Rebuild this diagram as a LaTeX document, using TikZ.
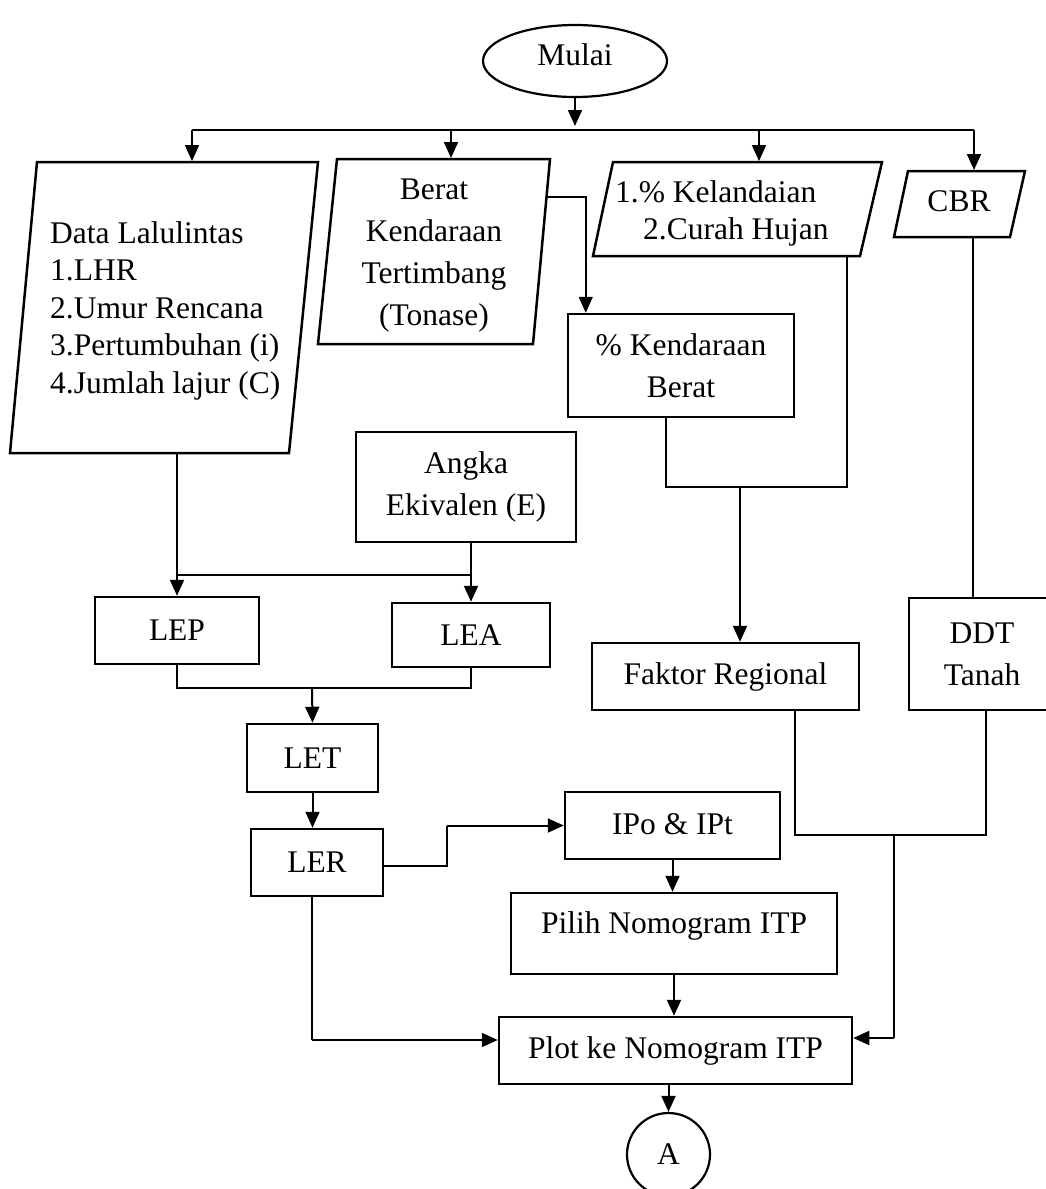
\documentclass[tikz,border=0pt]{standalone}
\usepackage{fontspec}
\setmainfont{Liberation Serif}
\usetikzlibrary{arrows.meta,shapes.geometric,calc}
\begin{document}
\begin{tikzpicture}[x=1pt,y=-1pt,
  font=\fontsize{31.5}{37.5}\selectfont,
  box/.style={draw,line width=2.5pt,rectangle,inner sep=0pt,align=center},
  para/.style={draw,line width=2.5pt,line join=miter},
  conn/.style={line width=1.1pt},
  flow/.style={line width=2pt,-{Triangle[length=16pt,width=14pt]}},
  wide/.style={font=\fontsize{31.5}{42}\selectfont}
]
\useasboundingbox (0,0) rectangle (1046,1189);

% start
\node[draw,ellipse,line width=2.2pt,minimum width=184pt,minimum height=72pt,inner sep=0pt,text depth=12pt] (mulai) at (575,61) {Mulai};

% input parallelograms
\draw[para] (37,162) -- (318,162) -- (289,453) -- (10,453) -- cycle;
\node[align=left,anchor=west,inner sep=0pt] (data) at (50,310.5) {Data Lalulintas\\1.LHR\\2.Umur Rencana\\3.Pertumbuhan (i)\\4.Jumlah lajur (C)};

\draw[para] (337,159) -- (550,159) -- (533,344) -- (318,344) -- cycle;
\node[wide,align=center,inner sep=0pt] (berat) at (434,256) {Berat\\Kendaraan\\Tertimbang\\(Tonase)};

\draw[para] (613,162) -- (882,162) -- (860,256) -- (593,256) -- cycle;
\node[align=left,anchor=west,inner sep=0pt] (kel) at (615,213.5) {1.\% Kelandaian\\\hspace*{28pt}2.Curah Hujan};

\draw[para] (908,171) -- (1025,171) -- (1010,237) -- (894,237) -- cycle;
\node[inner sep=0pt] (cbr) at (959,201.5) {CBR};

% boxes
\node[box,wide,minimum width=226pt,minimum height=103pt] (kend) at (681,365.5) {\% Kendaraan\\Berat};
\node[box,wide,minimum width=220pt,minimum height=110pt] (angka) at (466,487) {Angka\\Ekivalen (E)};
\node[box,minimum width=164pt,minimum height=67pt] (lep) at (177,630.5) {LEP};
\node[box,minimum width=158pt,minimum height=64pt] (lea) at (471,635) {LEA};
\node[box,minimum width=267pt,minimum height=67pt] (faktor) at (725.5,676.5) {Faktor Regional};
\node[box,wide,minimum width=146pt,minimum height=112pt] (ddt) at (982,654) {DDT\\Tanah};
\node[box,minimum width=131pt,minimum height=68pt] (let) at (312.5,758) {LET};
\node[box,minimum width=132pt,minimum height=67pt] (ler) at (317,862.5) {LER};
\node[box,minimum width=215pt,minimum height=67pt,text depth=3pt] (ipo) at (672.5,825.5) {IPo \& IPt};
\node[box,minimum width=326pt,minimum height=81pt,text height=22pt,text depth=22pt] (pilih) at (674,933.5) {Pilih Nomogram ITP};
\node[box,minimum width=353pt,minimum height=67pt] (plot) at (675.5,1050.5) {Plot ke Nomogram ITP};
\node[draw,circle,line width=2.2pt,minimum size=83pt,inner sep=0pt] (a) at (668.5,1154.5) {A};

% named connector points
\coordinate (mtip) at (575,126);
\coordinate (b1) at (192,130);
\coordinate (b2) at (451,130);
\coordinate (b3) at (759,130);
\coordinate (b4) at (974,130);
\coordinate (dataT) at (192,161);
\coordinate (beratT) at (451,158);
\coordinate (kelT) at (759,161);
\coordinate (cbrT) at (974,170);
\coordinate (beratR) at (546,197);
\coordinate (kelB) at (847,256);
\coordinate (m1) at (740,487);
\coordinate (cbrB) at (973,237);
\coordinate (dataB) at (177,453);
\coordinate (j1) at (177,575);
\coordinate (j2) at (312,688);
\coordinate (k1) at (447,866);
\coordinate (k2) at (312,1040);
\coordinate (j3) at (894,835);
\coordinate (k3) at (894,1038);

% top branching
\draw[flow] (mulai.south) -- (mtip);
\draw[line width=2pt] (b1) -- (b4);
\draw[flow] (b1) -- (dataT);
\draw[flow] (b2) -- (beratT);
\draw[flow] (b3) -- (kelT);
\draw[flow] (b4) -- (cbrT);

% right column
\draw[line width=1.5pt,-{Triangle[length=16pt,width=14pt]}] (beratR) -| ($(kend.north west)+(19,0)$);
\draw[conn] ($(kend.south)+(-15,0)$) |- (m1) -| (kelB);
\draw[flow] (m1) -- (m1 |- faktor.north);
\draw[conn] (cbrB) -- (cbrB |- ddt.north);

% left column
\draw[conn] (dataB) -- (j1) -- (j1 -| lea.north);
\draw[conn] (angka.south -| lea.north) -- (j1 -| lea.north);
\draw[flow] (j1) -- (lep.north);
\draw[flow] (j1 -| lea.north) -- (lea.north);
\draw[conn] (lep.south) |- (j2) -| (lea.south);
\draw[flow] (j2) -- (let.north);
\draw[flow] (let.south) -- (let.south |- ler.north);

% LER to IPo
\draw[conn] (ler.east |- k1) -- (k1) -- (k1 |- ipo.west);
\draw[flow] (k1 |- ipo.west) -- (ipo.west);
\draw[flow] (ipo.south) -- (ipo.south |- pilih.north);
\draw[flow] (pilih.south) -- (pilih.south |- plot.north);

% into Plot
\draw[conn] (k2 |- ler.south) -- (k2);
\draw[flow] (k2) -- (k2 -| plot.west);
\draw[conn] ($(faktor.south)+(69.5,0)$) |- (j3) -| ($(ddt.south)+(4,0)$);
\draw[conn] (j3) -- (k3);
\draw[flow] (k3) -- (k3 -| plot.east);
\draw[flow] (plot.south -| a.north) -- (a.north);
\end{tikzpicture}
\end{document}
